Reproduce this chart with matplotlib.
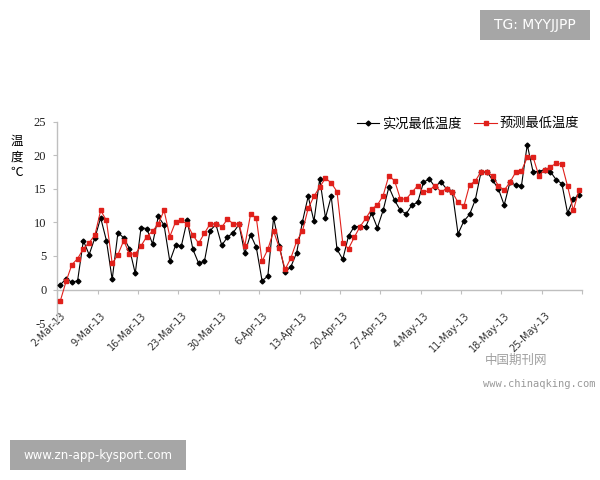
import numpy as np
import pandas as pd
import matplotlib
matplotlib.use('Agg')
import matplotlib.pyplot as plt
import matplotlib.dates as mdates
from matplotlib.patches import Rectangle
import matplotlib.transforms as mtransforms

start_date = '2013-03-02'
series_labels = ['实况最低温度', '预测最低温度']
actual_min = [0.7, 1.6, 1.1, 1.3, 7.3, 5.2, 7.7, 10.7, 7.3, 1.5,
              8.5, 7.7, 6.1, 2.4, 9.2, 9.1, 6.8, 10.9, 9.6, 4.2,
              6.6, 6.5, 10.3, 6.0, 3.9, 4.2, 8.8, 9.7, 6.6, 7.8,
              8.5, 9.7, 5.4, 8.2, 6.3, 1.3, 2.0, 10.7, 6.5, 2.6,
              3.4, 5.5, 10.1, 13.9, 10.2, 16.5, 10.7, 13.9, 6.0, 4.5,
              8.0, 9.4, 9.4, 9.4, 11.4, 9.2, 11.8, 15.3, 13.3, 11.8,
              11.3, 12.6, 13.0, 16.0, 16.5, 15.3, 16.1, 15.0, 14.6, 8.3,
              10.2, 11.2, 13.4, 17.6, 17.6, 16.3, 15.0, 12.6, 16.0, 15.6,
              15.5, 21.6, 17.6, 17.6, 17.9, 17.6, 16.4, 15.8, 11.4, 13.5,
              14.1]
forecast_min = [-1.7, 1.2, 3.7, 4.6, 6.1, 7.0, 8.1, 11.8, 10.3, 3.9,
                5.2, 7.3, 5.3, 5.3, 6.5, 7.9, 8.7, 9.8, 11.8, 7.9,
                10.1, 10.3, 9.8, 8.1, 6.9, 8.4, 9.8, 9.8, 9.3, 10.5,
                9.8, 9.8, 6.5, 11.2, 10.7, 4.2, 6.0, 8.7, 6.2, 3.0,
                4.7, 7.2, 8.7, 12.1, 13.9, 15.3, 16.6, 15.9, 14.6, 6.9,
                6.1, 7.8, 9.4, 10.6, 12.0, 12.6, 14.0, 17.0, 16.2, 13.5,
                13.5, 14.5, 15.5, 14.5, 14.8, 15.5, 14.6, 15.0, 14.5, 13.0,
                12.4, 15.6, 16.2, 17.6, 17.6, 16.9, 15.5, 14.8, 16.0, 17.5,
                17.7, 19.7, 19.8, 17.0, 17.8, 18.3, 18.8, 18.7, 15.4, 11.8,
                14.9]
y_ticks = [-5, 0, 5, 10, 15, 20, 25]

dates = pd.date_range(start_date, periods=len(actual_min), freq='D')
xpos = dates + pd.Timedelta(hours=12)

fig = plt.figure(figsize=(6, 4.8), dpi=100)
fig.patch.set_facecolor('white')
ax = fig.add_axes([0.0957, 0.327, 0.8743, 0.419])

ax.plot(xpos, actual_min, color='black', lw=0.8, marker='D', ms=2.5,
        label=series_labels[0], zorder=3)
ax.plot(xpos, forecast_min, color='#E0201B', lw=0.8, marker='s', ms=2.7,
        label=series_labels[1], zorder=4)

ax.set_xlim(dates[0], dates[0] + pd.Timedelta(days=91))
ax.set_ylim(-5, 25)

tick_dates = pd.date_range(start_date, periods=14, freq='7D')
ax.set_xticks(tick_dates)
labels = [f"{d.day}-{d.strftime('%b-%y')}" for d in tick_dates]
labels[-1] = ''
ax.set_xticklabels(labels)
ax.set_yticks(y_ticks)
ax.set_yticklabels([str(v) for v in y_ticks])

for s in ['top', 'right']:
    ax.spines[s].set_visible(False)
ax.spines['bottom'].set_position(('data', 0))
for s in ['bottom', 'left']:
    ax.spines[s].set_color('#BFBFBF')
    ax.spines[s].set_linewidth(1.0)

ax.tick_params(axis='x', direction='out', length=3, color='#BFBFBF',
               pad=12, labelsize=7, labelcolor='#333333')
ax.tick_params(axis='y', direction='out', length=3, color='#BFBFBF',
               pad=5, labelsize=9, labelcolor='#222222')
for lab in ax.get_xticklabels():
    lab.set_rotation(45)
    lab.set_ha('right')
    lab.set_va('top')
    lab.set_rotation_mode('anchor')
    lab.set_family('DejaVu Sans')
    lab.set_transform(lab.get_transform() + mtransforms.ScaledTranslation(3/100, 0, fig.dpi_scale_trans))
for lab in ax.get_yticklabels():
    lab.set_family('Liberation Serif')

fig.text(0.028, 0.673, '温\n度\n℃', ha='center', va='center', fontsize=9,
         family=['Noto Sans CJK SC', 'DejaVu Sans'], linespacing=1.25)

leg = fig.legend(loc='center right', bbox_to_anchor=(0.965, 0.742), ncol=2,
                 frameon=False, handlelength=1.7, handletextpad=0.2,
                 columnspacing=1.0, borderpad=0, borderaxespad=0,
                 prop={'family': ['Noto Sans CJK SC', 'DejaVu Sans'], 'size': 9.5})

# watermark boxes
fig.patches.append(Rectangle((0.8, 0.9167), 0.1833, 0.0625, transform=fig.transFigure,
                             facecolor='#A6A6A6', edgecolor='none', zorder=0))
fig.text(0.8917, 0.948, 'TG: MYYJJPP', ha='center', va='center', color='white',
         fontsize=10, family='DejaVu Sans')
fig.patches.append(Rectangle((0.0167, 0.0208), 0.2933, 0.0625, transform=fig.transFigure,
                             facecolor='#A6A6A6', edgecolor='none', zorder=0))
fig.text(0.1633, 0.052, 'www.zn-app-kysport.com', ha='center', va='center', color='white',
         fontsize=8.5, family='DejaVu Sans')
fig.text(0.808, 0.25, '中国期刊网', ha='left', va='center', color='#A0A0A0',
         fontsize=9, family=['Noto Sans CJK SC', 'DejaVu Sans'])
fig.text(0.805, 0.2, 'www.chinaqking.com', ha='left', va='center', color='#999999',
         fontsize=7.5, family='DejaVu Sans Mono')

fig.savefig('out.png', dpi=100)
